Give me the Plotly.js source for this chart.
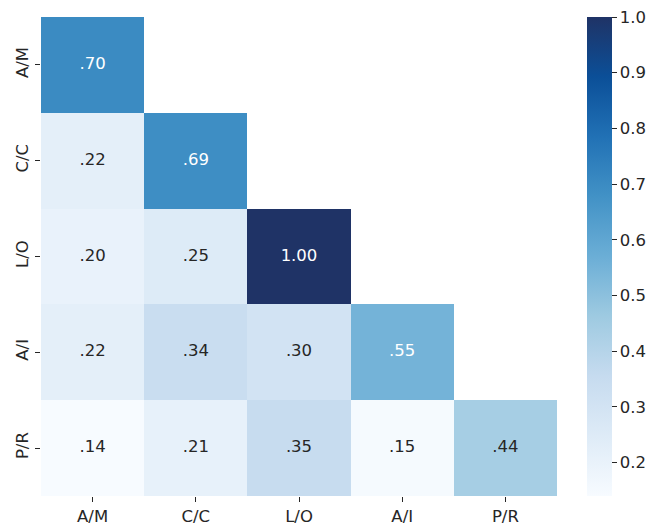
<!DOCTYPE html>
<html>
<head>
<meta charset="utf-8">
<script src="https://cdn.plot.ly/plotly-3.0.1.min.js"></script>
<style>
  html, body { margin: 0; padding: 0; background: #fff; }
  #chart { width: 655px; height: 529px; }
</style>
</head>
<body>
<div id="chart"></div>
<script>
// Lower-triangle correlation matrix between five factors
const labels = ["A/M", "C/C", "L/O", "A/I", "P/R"];
const rowAM = [0.70, null, null, null, null];
const rowCC = [0.22, 0.69, null, null, null];
const rowLO = [0.20, 0.25, 1.00, null, null];
const rowAI = [0.22, 0.34, 0.30, 0.55, null];
const rowPR = [0.14, 0.21, 0.35, 0.15, 0.44];
const colorbarTicks = [0.2, 0.3, 0.4, 0.5, 0.6, 0.7, 0.8, 0.9, 1.0];

const z = [rowAM, rowCC, rowLO, rowAI, rowPR];
const zmin = 0.14, zmax = 1.0;

const blues = [
  [0.000, "#f7fbff"],
  [0.125, "#deebf7"],
  [0.250, "#c6dbef"],
  [0.375, "#9ecae1"],
  [0.500, "#6baed6"],
  [0.625, "#4292c6"],
  [0.750, "#2171b5"],
  [0.875, "#0b4f98"],
  [1.000, "#1f3366"]
];

// value labels: ".70" style, white on the darker cells
const tx = [], ty = [], tt = [], tc = [];
z.forEach((row, i) => row.forEach((v, j) => {
  if (v === null) return;
  tx.push(labels[j]);
  ty.push(labels[i]);
  tt.push(v.toFixed(2).replace(/^0/, ""));
  tc.push((v - zmin) / (zmax - zmin) > 0.45 ? "#ffffff" : "#262626");
}));

const font = { family: "DejaVu Sans, sans-serif", size: 16.5, color: "#262626" };

const heat = {
  type: "heatmap",
  x: labels,
  y: labels,
  z: z,
  zmin: zmin,
  zmax: zmax,
  colorscale: blues,
  hoverongaps: false,
  colorbar: {
    x: (587 - 41) / 516, xanchor: "left", xref: "paper",
    y: 0.5, yanchor: "middle",
    len: 1, lenmode: "fraction",
    thickness: 25, thicknessmode: "pixels",
    xpad: 0, ypad: 0,
    outlinewidth: 0,
    ticks: "outside", ticklen: 5, tickwidth: 1, tickcolor: "#262626",
    tickvals: colorbarTicks,
    ticktext: colorbarTicks.map(v => v.toFixed(1)),
    tickfont: font
  }
};

const values = {
  type: "scatter",
  mode: "text",
  x: tx, y: ty, text: tt,
  textfont: { family: font.family, size: 16.5, color: tc },
  hoverinfo: "skip",
  showlegend: false
};

const layout = {
  width: 655, height: 529,
  margin: { l: 41, r: 98, t: 17, b: 33, pad: 0, autoexpand: false },
  paper_bgcolor: "#fff",
  plot_bgcolor: "#fff",
  font: font,
  xaxis: {
    type: "category",
    showgrid: false, zeroline: false, showline: false,
    ticks: "outside", ticklen: 5, tickwidth: 1, tickcolor: "#262626",
    tickfont: font
  },
  yaxis: {
    type: "category",
    autorange: "reversed",
    showgrid: false, zeroline: false, showline: false,
    ticks: "outside", ticklen: 5, tickwidth: 1, tickcolor: "#262626",
    tickangle: -90,
    tickfont: font
  }
};

Plotly.newPlot("chart", [heat, values], layout, { displayModeBar: false, staticPlot: true });
</script>
</body>
</html>
